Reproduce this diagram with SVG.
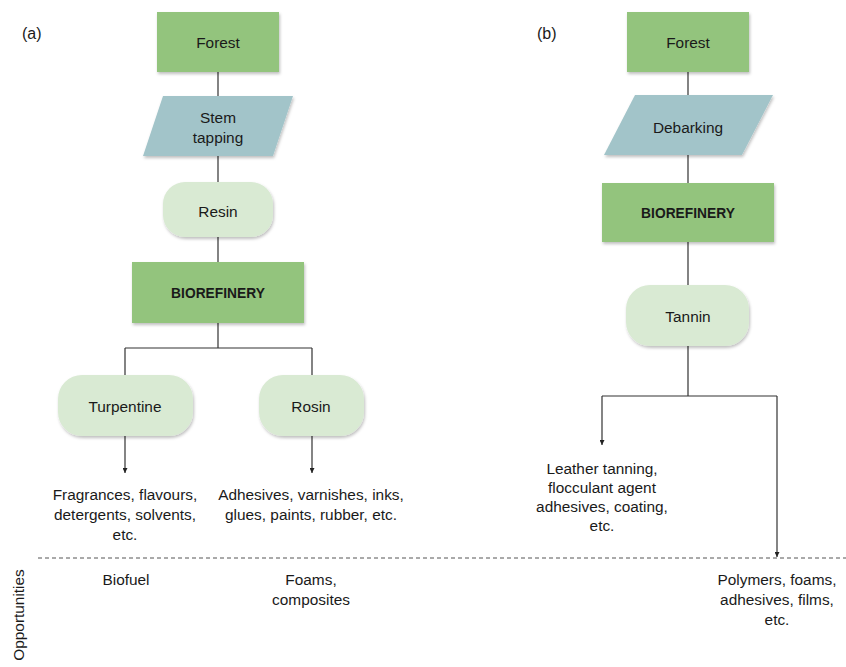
<svg xmlns="http://www.w3.org/2000/svg" width="846" height="667" viewBox="0 0 846 667">
<defs>
<filter id="sh" x="-10%" y="-10%" width="125%" height="130%">
<feDropShadow dx="1" dy="2" stdDeviation="1.5" flood-color="#000" flood-opacity="0.25"/>
</filter>
<marker id="arr" viewBox="0 0 10 10" refX="10" refY="5" markerWidth="5" markerHeight="5" orient="auto" markerUnits="userSpaceOnUse">
<path d="M0,0 L10,5 L0,10 z" fill="#222"/>
</marker>
</defs>
<style>
text{font-family:"Liberation Sans",Arial,sans-serif;font-size:15.4px;fill:#1a1a1a;text-anchor:middle}
.b{font-weight:bold;font-size:13.8px}
.lab{font-size:16px;text-anchor:start}
.dark{fill:#93c47d;filter:url(#sh)}
.para{fill:#a2c4c9;filter:url(#sh)}
.light{fill:#d9ead3;filter:url(#sh)}
.ln{stroke:#333;stroke-width:1.2;fill:none}
.ar{stroke:#333;stroke-width:1.2;fill:none;marker-end:url(#arr)}
</style>
<rect width="846" height="667" fill="#fff"/>
<text class="lab" x="22" y="39">(a)</text>
<text class="lab" x="537" y="39">(b)</text>
<g id="connectors">
<path class="ln" d="M218,72V96M218,156V182M218,237V262M218,323V348M125,348H312M125,348V375M312,348V375"/>
<path class="ar" d="M125,436V473"/>
<path class="ar" d="M312,436V473"/>
<path class="ln" d="M688,72V95M688,155V183M688,242V285M688,346V396M602,396H777"/>
<path class="ar" d="M602,396V445"/>
<path class="ar" d="M777,396V557"/>
</g>
<g id="a-forest"><rect class="dark" x="157" y="12" width="122" height="60"/><text x="218" y="48">Forest</text></g>
<g id="a-stem"><polygon class="para" points="163,96 293,96 273,156 143,156"/><text x="218" y="123">Stem</text><text x="218" y="143">tapping</text></g>
<g id="a-resin"><rect class="light" x="163" y="182" width="110" height="55" rx="22"/><text x="218" y="217">Resin</text></g>
<g id="a-bio"><rect class="dark" x="132" y="262" width="172" height="61"/><text class="b" x="218" y="298">BIOREFINERY</text></g>
<g id="a-turp"><rect class="light" x="58" y="375" width="135" height="61" rx="24"/><text x="125" y="412">Turpentine</text></g>
<g id="a-rosin"><rect class="light" x="259" y="375" width="105" height="61" rx="24"/><text x="311" y="412">Rosin</text></g>
<g id="a-turp-uses"><text x="125" y="500">Fragrances, flavours,</text><text x="125" y="520">detergents, solvents,</text><text x="125" y="540">etc.</text></g>
<g id="a-rosin-uses"><text x="311" y="500">Adhesives, varnishes, inks,</text><text x="311" y="520">glues, paints, rubber, etc.</text></g>
<g id="b-forest"><rect class="dark" x="627" y="12" width="122" height="60"/><text x="688" y="48">Forest</text></g>
<g id="b-debark"><polygon class="para" points="635,95 773,95 742,155 604,155"/><text x="688" y="133">Debarking</text></g>
<g id="b-bio"><rect class="dark" x="602" y="183" width="172" height="59"/><text class="b" x="688" y="218">BIOREFINERY</text></g>
<g id="b-tannin"><rect class="light" x="626" y="285" width="123" height="61" rx="24"/><text x="688" y="322">Tannin</text></g>
<g id="b-uses"><text x="602" y="474">Leather tanning,</text><text x="602" y="493">flocculant agent</text><text x="602" y="512">adhesives, coating,</text><text x="602" y="531">etc.</text></g>
<g id="opportunities">
<line x1="38" y1="558" x2="846" y2="558" stroke="#555" stroke-width="1" stroke-dasharray="4,3"/>
<text transform="translate(24,615) rotate(-90)">Opportunities</text>
<text x="126" y="585">Biofuel</text>
<text x="311" y="585">Foams,</text>
<text x="311" y="605">composites</text>
<text x="777" y="585">Polymers, foams,</text>
<text x="777" y="605">adhesives, films,</text>
<text x="777" y="625">etc.</text>
</g>
</svg>
